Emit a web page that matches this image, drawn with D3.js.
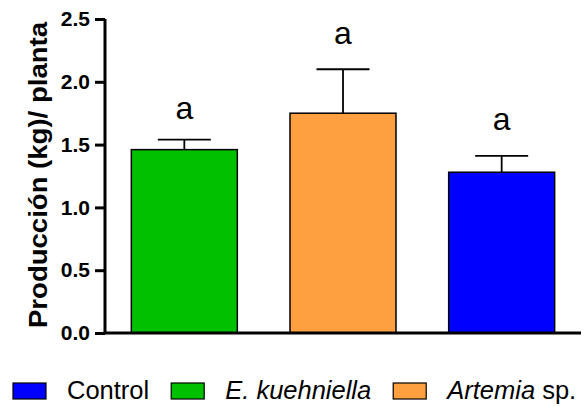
<!DOCTYPE html>
<html>
<head>
<meta charset="utf-8">
<script src="https://d3js.org/d3.v7.min.js"></script>
<style>
  html, body { margin: 0; padding: 0; background: #fff; }
  svg { display: block; font-family: "Liberation Sans", Arial, sans-serif; }
</style>
</head>
<body>
<div id="chart"></div>
<script>
// data
var groups = ["E. kuehniella", "Artemia sp.", "Control"];
var means = [1.46, 1.75, 1.28];
var errors = [0.08, 0.35, 0.13];
var letters = ["a", "a", "a"];
var letterAt = [1.70, 2.30, 1.62];   // baseline of the significance letters, in kg
var colors = ["#00c000", "#ffa040", "#0000ff"];
var yTicks = [0.0, 0.5, 1.0, 1.5, 2.0, 2.5];

// legend (its own order in the figure)
var legendNames = [["Control", ""], ["E. kuehniella", ""], ["Artemia", " sp."]];
var legendItalic = [false, true, true];
var legendColors = ["#0000ff", "#00c000", "#ffa040"];

var width = 586, height = 407;
var margin = {top: 19, right: 5, bottom: 74, left: 105};

var svg = d3.select("#chart").append("svg")
    .attr("width", width)
    .attr("height", height);

var g = svg.append("g").attr("transform", "translate(" + margin.left + "," + margin.top + ")");
var gw = width - margin.left - margin.right;
var gh = height - margin.top - margin.bottom;

var x = d3.scaleBand().domain(groups).range([0, gw]).paddingInner(0.332).paddingOuter(0.166);
var y = d3.scaleLinear().domain([0, 2.5]).range([gh, 0]);

// bars
g.selectAll("rect.bar")
    .data(groups)
    .enter().append("rect")
    .attr("class", "bar")
    .attr("x", function(d) { return x(d); })
    .attr("width", x.bandwidth())
    .attr("y", function(d, i) { return y(means[i]); })
    .attr("height", function(d, i) { return gh - y(means[i]); })
    .attr("fill", function(d, i) { return colors[i]; })
    .attr("stroke", "#000")
    .attr("stroke-width", 1.5);

// error bars (upper only)
var eb = g.selectAll("g.err").data(groups).enter().append("g").attr("class", "err");
eb.append("line")
    .attr("x1", function(d) { return x(d) + x.bandwidth() / 2; })
    .attr("x2", function(d) { return x(d) + x.bandwidth() / 2; })
    .attr("y1", function(d, i) { return y(means[i]); })
    .attr("y2", function(d, i) { return y(means[i] + errors[i]); })
    .attr("stroke", "#000").attr("stroke-width", 1.8);
eb.append("line")
    .attr("x1", function(d) { return x(d) + x.bandwidth() / 4; })
    .attr("x2", function(d) { return x(d) + x.bandwidth() * 3 / 4; })
    .attr("y1", function(d, i) { return y(means[i] + errors[i]); })
    .attr("y2", function(d, i) { return y(means[i] + errors[i]); })
    .attr("stroke", "#000").attr("stroke-width", 1.8);

// letters
g.selectAll("text.sig")
    .data(groups)
    .enter().append("text")
    .attr("class", "sig")
    .attr("x", function(d) { return x(d) + x.bandwidth() / 2; })
    .attr("y", function(d, i) { return y(letterAt[i]); })
    .attr("text-anchor", "middle")
    .style("font-size", "32px")
    .text(function(d, i) { return letters[i]; });

// y axis
var yAxis = g.append("g")
    .call(d3.axisLeft(y).tickValues(yTicks).tickFormat(d3.format(".1f")).tickSize(10).tickPadding(5));
yAxis.select(".domain").attr("stroke-width", 3).attr("d", "M0," + y(2.5) + "V" + gh);
yAxis.selectAll(".tick line").attr("stroke-width", 3);
yAxis.selectAll(".tick text")
    .style("font-size", "21px")
    .style("font-weight", "bold")
    .style("font-family", "'Liberation Sans', Arial, sans-serif")
    .attr("fill", "#000");

// x axis line
g.append("line")
    .attr("x1", -1.5).attr("x2", gw)
    .attr("y1", gh).attr("y2", gh)
    .attr("stroke", "#000").attr("stroke-width", 3);

// y title
svg.append("text")
    .attr("transform", "translate(46.5,175) rotate(-90)")
    .attr("text-anchor", "middle")
    .attr("textLength", 306)
    .attr("lengthAdjust", "spacingAndGlyphs")
    .style("font-size", "25px")
    .style("font-weight", "bold")
    .text("Producción (kg)/ planta");

// legend
var lg = svg.append("g").attr("transform", "translate(13,399)");
var cx = 0;
legendNames.forEach(function(n, i) {
    lg.append("rect")
        .attr("x", cx).attr("y", -16)
        .attr("width", 33).attr("height", 16)
        .attr("fill", legendColors[i])
        .attr("stroke", "#000").attr("stroke-width", 1.2);
    cx += 54;
    var t = lg.append("text").attr("x", cx).attr("y", 0).style("font-size", "25.5px");
    t.append("tspan").style("font-style", legendItalic[i] ? "italic" : "normal").text(n[0]);
    if (n[1]) t.append("tspan").text(n[1]);
    cx += t.node().getComputedTextLength() + 22;
});
</script>
</body>
</html>
